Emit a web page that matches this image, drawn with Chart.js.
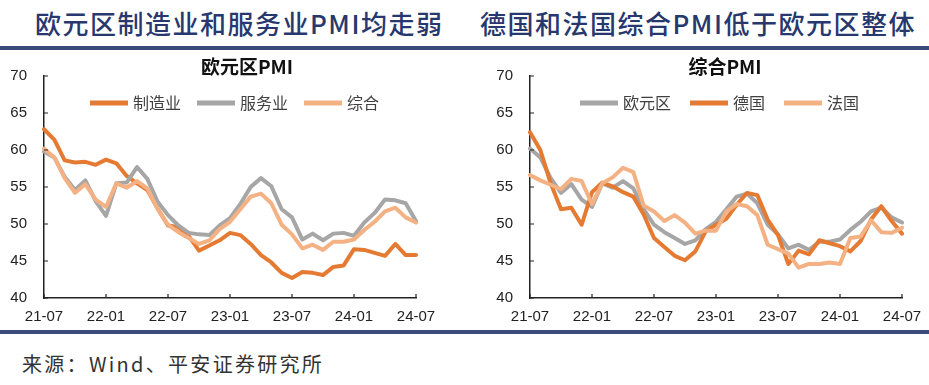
<!DOCTYPE html>
<html>
<head>
<meta charset="utf-8">
<script src="https://cdn.jsdelivr.net/npm/chart.js@4.4.1/dist/chart.umd.min.js"></script>
<style>
html, body { margin: 0; padding: 0; background: #fff; }
#page { position: relative; width: 929px; height: 385px; overflow: hidden; }
.hd { position: absolute; top: 5px; font-family: "Noto Sans CJK SC"; font-size: 26px; font-weight: 500; color: #27386e; white-space: nowrap; line-height: 36px; letter-spacing: 1.5px; }
.bar { position: absolute; left: 0; width: 929px; height: 4px; background: #3c4a7b; }
canvas { position: absolute; top: 52px; }
#src { position: absolute; left: 22px; top: 349px; font-family: "Noto Sans CJK SC"; font-size: 20px; letter-spacing: 2.3px; color: #333; white-space: nowrap; }
</style>
</head>
<body>
<div id="page">
  <div class="hd" style="left:35px">欧元区制造业和服务业PMI均走弱</div>
  <div class="hd" style="left:480px">德国和法国综合PMI低于欧元区整体</div>
  <div class="bar" style="top:46px"></div>
  <canvas id="left" width="494" height="280" style="left:0"></canvas>
  <canvas id="right" width="510" height="280" style="left:470px"></canvas>
  <div class="bar" style="top:330px"></div>
  <div id="src">来源：Wind、平安证券研究所</div>
</div>
<script>
// 月份 21-07 ~ 24-07
const months = ['21-07','21-08','21-09','21-10','21-11','21-12',
  '22-01','22-02','22-03','22-04','22-05','22-06','22-07','22-08','22-09','22-10','22-11','22-12',
  '23-01','23-02','23-03','23-04','23-05','23-06','23-07','23-08','23-09','23-10','23-11','23-12',
  '24-01','24-02','24-03','24-04','24-05','24-06','24-07'];

// 欧元区PMI
const euroMfg = [62.8,61.4,58.6,58.3,58.4,58.0,
  58.7,58.2,56.5,55.5,54.6,52.1,49.8,49.6,48.4,46.4,47.1,47.8,
  48.8,48.5,47.3,45.8,44.8,43.4,42.7,43.5,43.4,43.1,44.2,44.4,
  46.6,46.5,46.1,45.7,47.3,45.8,45.8];
const euroServ = [59.8,59.0,56.4,54.6,55.9,53.1,
  51.1,55.5,55.6,57.7,56.1,53.0,51.2,49.8,48.8,48.6,48.5,49.8,
  50.8,52.7,55.0,56.2,55.1,52.0,50.9,47.9,48.7,47.8,48.7,48.8,
  48.4,50.2,51.5,53.3,53.2,52.8,50.4];
const euroComp = [60.2,59.0,56.2,54.2,55.4,53.3,
  52.3,55.5,54.9,55.8,54.8,52.0,49.9,48.9,48.1,47.3,47.8,49.3,
  50.3,52.0,53.7,54.1,52.8,49.9,48.6,46.7,47.2,46.5,47.6,47.6,
  47.9,49.2,50.3,51.7,52.2,50.9,50.2];

// 综合PMI：德国、法国
const deComp = [62.4,60.0,55.5,52.0,52.2,49.9,
  54.3,55.6,55.1,54.3,53.7,51.3,48.1,46.9,45.7,45.1,46.3,49.0,
  49.9,50.7,52.6,54.2,53.9,50.6,48.5,44.6,46.4,45.9,47.8,47.4,
  47.0,46.3,47.7,50.6,52.4,50.4,48.7];
const frComp = [56.6,55.9,55.3,54.7,56.1,55.8,
  52.7,55.5,56.3,57.6,57.0,52.5,51.7,50.4,51.2,50.2,48.7,49.1,
  49.1,51.7,52.7,52.4,51.2,47.2,46.6,46.0,44.1,44.6,44.6,44.8,
  44.6,48.1,48.3,50.5,48.9,48.8,49.5];

const DARK = '#e57b33', GRAY = '#a6a6a6', LIGHT = '#f4b183';
const AXIS = '#222';

// 坐标轴内侧刻度
const innerTicks = {
  id: 'innerTicks',
  afterDraw(chart) {
    const { ctx, chartArea, scales: { x, y } } = chart;
    ctx.save();
    ctx.strokeStyle = AXIS;
    ctx.lineWidth = 1.2;
    ctx.beginPath();
    y.ticks.forEach(t => {
      const py = y.getPixelForValue(t.value);
      ctx.moveTo(chartArea.left, py);
      ctx.lineTo(chartArea.left + 4, py);
    });
    months.forEach((m, i) => {
      if (i % 6) return;
      const px = x.getPixelForValue(i);
      ctx.moveTo(px, chartArea.bottom);
      ctx.lineTo(px, chartArea.bottom - 4);
    });
    ctx.stroke();
    ctx.restore();
  }
};

// 标题水平位置微调 + 图例画在绘图区内部
const lineLegend = {
  id: 'lineLegend',
  afterLayout(chart, args, opts) {
    const tb = chart.titleBlock;
    if (tb && opts.titleX) {
      const d = opts.titleX - (tb.left + tb.right) / 2;
      tb.left += d;
      tb.right += d;
    }
  },
  afterDraw(chart, args, opts) {
    const { ctx, chartArea } = chart;
    ctx.save();
    ctx.font = '16px "Noto Sans CJK SC"';
    ctx.textBaseline = 'middle';
    let x = chartArea.left + opts.offsetX;
    const y = chartArea.top + opts.offsetY;
    chart.data.datasets.forEach(ds => {
      ctx.strokeStyle = ds.borderColor;
      ctx.lineWidth = 5;
      ctx.beginPath();
      ctx.moveTo(x, y);
      ctx.lineTo(x + 38, y);
      ctx.stroke();
      x += 43;
      ctx.fillStyle = '#404040';
      ctx.fillText(ds.label, x, y);
      x += ctx.measureText(ds.label).width + opts.gap;
    });
    ctx.restore();
  }
};

function makeSeries(label, data, color, order) {
  return {
    label: label,
    data: data,
    borderColor: color,
    backgroundColor: color,
    borderWidth: 4,
    pointRadius: 0,
    tension: 0,
    fill: false,
    order: order,
    borderJoinStyle: 'round',
    borderCapStyle: 'round'
  };
}

// 轴的占位大小固定，避免 padding 被计算两次
const fitX = s => { s.height = 28; s.paddingLeft = 0; s.paddingRight = 0; };
const fitY = s => { s.width = 34; s.paddingTop = 0; s.paddingBottom = 0; };

function makeChart(id, title, datasets, padding, legendOpts) {
  const ctx = document.getElementById(id).getContext('2d');
  return new Chart(ctx, {
    type: 'line',
    data: { labels: months, datasets: datasets },
    options: {
      responsive: false,
      animation: false,
      layout: { padding: padding },
      plugins: {
        legend: { display: false },
        tooltip: { enabled: false },
        title: {
          display: true,
          text: title,
          color: '#111',
          font: { family: '"Noto Sans CJK SC"', size: 19, weight: 'bold', lineHeight: 1 },
          padding: { top: 5, bottom: 0 }
        },
        lineLegend: legendOpts
      },
      scales: {
        x: {
          offset: false,
          grid: { display: false, drawTicks: false, tickLength: 0 },
          border: { display: true, color: AXIS, width: 1.5 },
          afterFit: fitX,
          ticks: {
            autoSkip: false,
            maxRotation: 0,
            padding: 10,
            color: '#222',
            font: { family: '"Liberation Sans"', size: 15 },
            callback: (v, i) => (i % 6 === 0 ? months[i] : null)
          }
        },
        y: {
          min: 40,
          max: 70,
          grid: { display: false, drawTicks: false, tickLength: 0 },
          border: { display: true, color: AXIS, width: 1.5 },
          afterFit: fitY,
          ticks: {
            stepSize: 5,
            padding: 17,
            color: '#222',
            font: { family: '"Liberation Sans"', size: 15 }
          }
        }
      }
    },
    plugins: [innerTicks, lineLegend]
  });
}

makeChart('left', '欧元区PMI', [
  makeSeries('制造业', euroMfg, DARK, 3),
  makeSeries('服务业', euroServ, GRAY, 2),
  makeSeries('综合', euroComp, LIGHT, 1)
], { left: 10, right: 78, top: 0, bottom: 6 }, { offsetX: 46, offsetY: 27, gap: 16, titleX: 247 });

makeChart('right', '综合PMI', [
  makeSeries('欧元区', euroComp, GRAY, 3),
  makeSeries('德国', deComp, DARK, 2),
  makeSeries('法国', frComp, LIGHT, 1)
], { left: 26, right: 78, top: 0, bottom: 6 }, { offsetX: 50, offsetY: 27, gap: 19, titleX: 255 });
</script>
</body>
</html>
